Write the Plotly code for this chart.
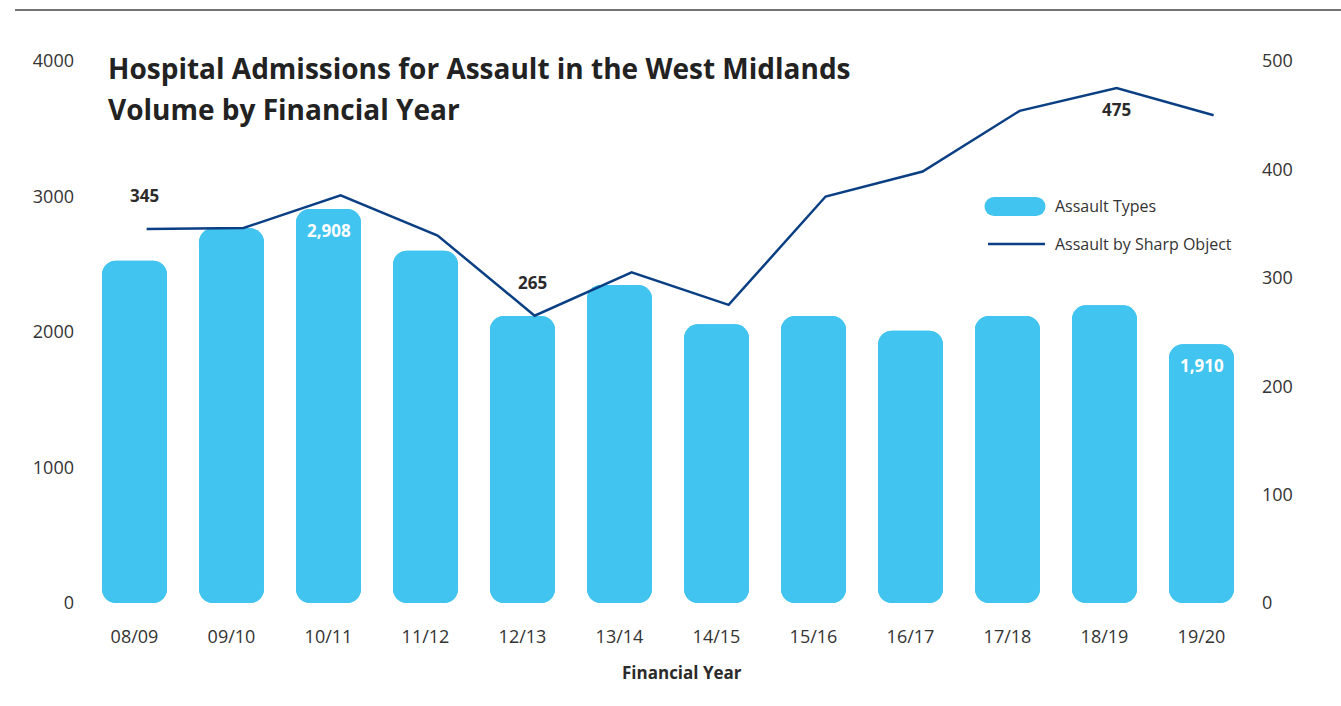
import plotly.graph_objects as go

# Financial years and series values
years = ["08/09", "09/10", "10/11", "11/12", "12/13", "13/14",
         "14/15", "15/16", "16/17", "17/18", "18/19", "19/20"]
assault_types = [2526, 2765, 2908, 2600, 2118, 2347, 2057, 2118, 2010, 2118, 2197, 1910]
sharp_object = [345, 346, 376, 339, 265, 305, 275, 375, 398, 454, 475, 450]

# which points carry a value label
bar_labelled = ["10/11", "19/20"]
line_labels_above = ["08/09", "12/13"]
line_labels_below = ["18/19"]

BAR_COLOR = "#41C4F0"
LINE_COLOR = "#0B3F84"
TEXT_COLOR = "#2B2B2B"
FONT = "Open Sans"

W, H = 1341, 706
L, R, T, B = 86, 91, 61, 103
plot_w = W - L - R
plot_h = H - T - B


def px_x(px):
    return (px - L) / plot_w


def px_y(py):
    return (H - B - py) / plot_h


fig = go.Figure()

# Bars: the upper half is rounded at its top, the lower half (drawn downward
# from the value to zero) is rounded at its foot, giving a bar with two round ends.
fig.add_trace(go.Bar(
    x=years, y=assault_types, base=0,
    marker=dict(color=BAR_COLOR, cornerradius=14, line=dict(width=0)),
    name="Assault Types", showlegend=False, hoverinfo="x+y",
))
fig.add_trace(go.Bar(
    x=years, y=[-v for v in assault_types], base=assault_types,
    marker=dict(color=BAR_COLOR, cornerradius=14, line=dict(width=0)),
    name="Assault Types", showlegend=False, hoverinfo="skip",
))

fig.add_trace(go.Scatter(
    x=years, y=sharp_object, mode="lines",
    line=dict(color=LINE_COLOR, width=2.5),
    name="Assault by Sharp Object", showlegend=False,
    xaxis="x2", yaxis="y2",
))

annotations = []

# value labels inside the bars
for yr, v in zip(years, assault_types):
    if yr in bar_labelled:
        annotations.append(dict(
            x=yr, y=v, xref="x", yref="y", text=f"{v:,}", showarrow=False,
            yanchor="top", yshift=-8,
            font=dict(family=FONT, size=17, color="white", weight="bold"),
        ))

# value labels on the line
for yr, v in zip(years, sharp_object):
    if yr in line_labels_above or yr in line_labels_below:
        above = yr in line_labels_above
        annotations.append(dict(
            x=yr, y=v, xref="x2", yref="y2", text=f"{v}", showarrow=False,
            yanchor="bottom" if above else "top",
            yshift=20 if above else -8, xshift=-2 if above else 0,
            font=dict(family=FONT, size=17, color=TEXT_COLOR, weight="bold"),
        ))

# title lines
title_font = dict(family=FONT, size=28, color="#222222", weight="bold")
annotations.append(dict(
    x=px_x(106), y=px_y(68), xref="paper", yref="paper", xanchor="left", yanchor="middle",
    text="Hospital Admissions for Assault in the West Midlands", showarrow=False,
    font=title_font,
))
annotations.append(dict(
    x=px_x(106), y=px_y(109), xref="paper", yref="paper", xanchor="left", yanchor="middle",
    text="Volume by Financial Year", showarrow=False,
    font=title_font,
))

# x axis title
annotations.append(dict(
    x=px_x(682), y=px_y(672), xref="paper", yref="paper", xanchor="center", yanchor="middle",
    text="Financial Year", showarrow=False,
    font=dict(family=FONT, size=17, color=TEXT_COLOR, weight="bold"),
))

# legend entries
legend_font = dict(family=FONT, size=16, color="#333333")
annotations.append(dict(
    x=px_x(1053), y=px_y(206), xref="paper", yref="paper", xanchor="left", yanchor="middle",
    text="Assault Types", showarrow=False, font=legend_font,
))
annotations.append(dict(
    x=px_x(1053), y=px_y(244), xref="paper", yref="paper", xanchor="left", yanchor="middle",
    text="Assault by Sharp Object", showarrow=False, font=legend_font,
))

leg_x = px_x(1015)
leg_bar_y = px_y(206.5)
leg_line_y = px_y(244)
shapes = [
    # rule across the top
    dict(type="line", xref="paper", yref="paper",
         x0=px_x(15), x1=px_x(W), y0=px_y(10), y1=px_y(10),
         line=dict(color="#444444", width=1.5)),
    # legend pill for the bars
    dict(type="rect", xref="paper", yref="paper", xsizemode="pixel", ysizemode="pixel",
         xanchor=leg_x, yanchor=leg_bar_y, x0=-21, x1=21, y0=-9.5, y1=9.5,
         fillcolor=BAR_COLOR, line=dict(width=0)),
    dict(type="circle", xref="paper", yref="paper", xsizemode="pixel", ysizemode="pixel",
         xanchor=leg_x, yanchor=leg_bar_y, x0=-30.5, x1=-11.5, y0=-9.5, y1=9.5,
         fillcolor=BAR_COLOR, line=dict(width=0)),
    dict(type="circle", xref="paper", yref="paper", xsizemode="pixel", ysizemode="pixel",
         xanchor=leg_x, yanchor=leg_bar_y, x0=11.5, x1=30.5, y0=-9.5, y1=9.5,
         fillcolor=BAR_COLOR, line=dict(width=0)),
    # legend sample for the line
    dict(type="line", xref="paper", yref="paper",
         x0=px_x(988), x1=px_x(1045), y0=leg_line_y, y1=leg_line_y,
         line=dict(color=LINE_COLOR, width=2.5)),
]

tick_font = dict(family=FONT, size=18, color="#333333")

fig.update_layout(
    width=W, height=H,
    margin=dict(l=L, r=R, t=T, b=B, pad=0),
    paper_bgcolor="white", plot_bgcolor="white",
    barmode="overlay", bargap=0.33,
    showlegend=False,
    xaxis=dict(type="category", range=[-0.5, 11.5], showgrid=False, zeroline=False,
               showline=False, ticks="", tickfont=tick_font, ticklabelstandoff=21),
    xaxis2=dict(type="category", overlaying="x", range=[-0.625, 11.375],
                visible=False),
    yaxis=dict(range=[0, 4000], dtick=1000, showgrid=False, zeroline=False,
               showline=False, ticks="", tickfont=tick_font, ticklabelstandoff=11),
    yaxis2=dict(range=[0, 500], dtick=100, overlaying="y", side="right",
                showgrid=False, zeroline=False, showline=False, ticks="",
                tickfont=tick_font, ticklabelstandoff=11),
    annotations=annotations,
    shapes=shapes,
)

fig.write_html("out.html")
